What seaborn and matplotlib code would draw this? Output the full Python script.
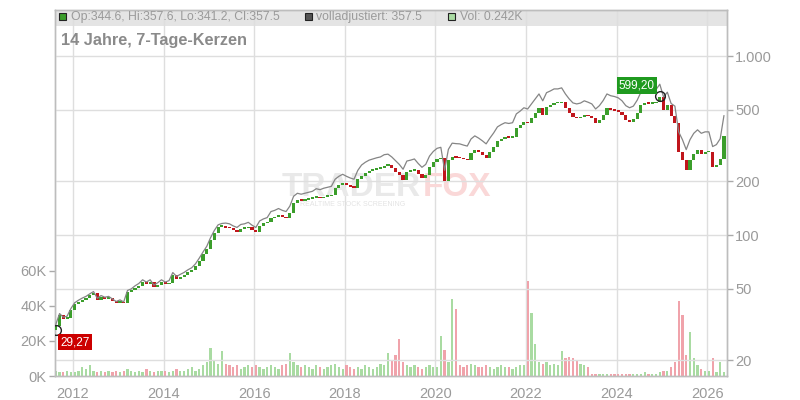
import numpy as np
import matplotlib
matplotlib.use("Agg")
import matplotlib.pyplot as plt
import seaborn as sns
from matplotlib.patches import Rectangle
from matplotlib.ticker import NullLocator

# ---------------- data ----------------
first_open = 29.5
close = [
    31, 35.7, 34, 34.5, 38, 41, 42.4, 43.5, 44.5, 46,
    47.4, 43.4, 45, 44, 44.5, 43, 41.7, 42.5, 41.5, 48,
    49, 50.5, 52, 54.6, 53, 54.6, 51, 52.5, 54.6, 53,
    54, 59.9, 57, 58.5, 60, 62, 63.7, 67, 72, 78,
    84, 93.8, 103, 111, 113, 110, 109, 106, 104, 108,
    109, 111, 107, 104, 113, 116, 118, 124, 126, 129,
    126, 124, 133, 151, 157, 155, 157, 159, 161, 162,
    160, 163, 165, 167, 183, 190, 195, 190, 186, 183,
    205, 214, 222, 228, 231, 235, 237, 244, 246, 237,
    226, 216, 203, 225, 228, 231, 218, 208, 216, 240,
    255, 265, 269, 200, 262, 272, 270, 269, 265, 262,
    287, 298, 290, 280, 269, 290, 310, 335, 345, 353,
    350, 353, 396, 410, 428, 422, 450, 480, 512, 468,
    520, 532, 546, 546, 553, 512, 480, 456, 450, 455,
    468, 460, 450, 422, 440, 470, 512, 500, 495, 487,
    468, 440, 428, 445, 480, 532, 546, 540, 546, 550,
    590, 500, 532, 460, 420, 290, 262, 231, 262, 285,
    298, 285, 290, 290, 240, 246, 265, 357.5,
]
adjusted = [
    31.6, 36.4, 34.7, 35.2, 38.8, 41.8, 43.2, 44.4, 45.4, 46.9,
    48.3, 44.3, 45.9, 44.9, 45.4, 43.9, 42.5, 43.4, 42.3, 49,
    50, 52, 53.6, 56.2, 54.6, 56.2, 52.5, 54.1, 56.2, 54.6,
    55.6, 61.7, 58.7, 60.3, 61.8, 63.9, 65.6, 69, 74.2, 80.3,
    86.5, 96.6, 106, 114, 116, 116.6, 115.5, 112.4, 110.2, 114.5,
    115.5, 117.7, 113.4, 110.2, 119.8, 123, 125.1, 135.2, 137.3, 140.6,
    137.3, 135.2, 145, 164.6, 171.1, 169, 171.1, 173.3, 175.5, 181.4,
    179.2, 182.6, 184.8, 187, 205, 212.8, 218.4, 212.8, 208.3, 205,
    229.6, 246, 255, 262, 266, 270, 273, 281, 283, 273,
    260, 248, 233, 259, 262, 266, 251, 239, 248, 276,
    293, 305, 309, 230, 301, 326, 324, 323, 318, 314,
    344, 358, 348, 336, 323, 348, 372, 402, 414, 424,
    420, 424, 475, 492, 514, 506, 540, 576, 614, 562,
    624, 638, 655, 655, 664, 614, 576, 547, 540, 546,
    562, 552, 540, 506, 528, 564, 614, 600, 594, 584,
    562, 528, 514, 525, 566, 628, 644, 637, 644, 649,
    696, 590, 628, 543, 525, 377, 341, 300, 341, 370,
    387, 370, 377, 377, 312, 320, 345, 465,
]
volume_k = [
    3, 2, 2, 3, 2, 2, 3, 5, 4, 6,
    3, 2, 3, 2, 3, 2, 3, 2, 3, 4,
    3, 2, 3, 2, 4, 3, 2, 3, 3, 3,
    2, 3, 4, 3, 3, 4, 5, 3, 4, 6,
    8, 16, 9, 7, 14, 7, 6, 5, 6, 4,
    5, 6, 5, 6, 5, 4, 5, 6, 5, 4,
    6, 7, 13, 8, 6, 5, 6, 5, 4, 6,
    5, 4, 5, 6, 7, 5, 4, 6, 5, 4,
    5, 4, 6, 5, 4, 5, 7, 6, 13, 9,
    12, 21, 8, 6, 5, 6, 5, 4, 5, 6,
    5, 5, 23, 15, 8, 44, 38, 6, 5, 6,
    7, 6, 5, 5, 6, 5, 4, 5, 6, 5,
    5, 4, 5, 6, 6, 54, 36, 18, 8, 7,
    8, 6, 7, 6, 14, 10, 11, 10, 9, 7,
    6, 5, 1, 1, 1, 1, 1, 1, 1, 1,
    1, 1, 1, 1, 1, 1, 2, 1, 1, 1,
    2, 3, 3, 5, 8, 43, 35, 12, 25, 10,
    6, 4, 3, 3, 10, 2, 8, 2,
]
low_value = 29.27
high_value = 599.20
low_label = "29,27"
high_label = "599,20"
year_ticks = [2012, 2014, 2016, 2018, 2020, 2022, 2024, 2026]
vol_ticks = [0, 20, 40, 60]
vol_tick_labels = ["0K", "20K", "40K", "60K"]
price_ticks = [20, 50, 100, 200, 500, 1000]
price_tick_labels = ["20", "50", "100", "200", "500", "1.000"]
title = "14 Jahre, 7-Tage-Kerzen"
legend_ohlc = "Op:344.6, Hi:357.6, Lo:341.2, Cl:357.5"
legend_adj = "volladjustiert: 357.5"
legend_vol = "Vol: 0.242K"

assert len(close) == len(adjusted) == len(volume_k)

# ---------------- style ----------------
sns.set_theme(style="white")
plt.rcParams['font.family'] = ['Liberation Sans', 'DejaVu Sans']

W, H = 800, 400
fig = plt.figure(figsize=(8, 4), dpi=100)
L, R, B, T = 55, 727, 376, 10
axv = fig.add_axes([L / W, 1 - B / H, (R - L) / W, (B - T) / H])
axp = axv.twinx()

n = len(close)
t = 2011.62 + np.arange(n) / 12.0   # monthly positions
c = np.array(close, dtype=float)
o = np.array([first_open] + close[:-1], dtype=float)
up = c >= o

GREEN = "#3b9e2b"
RED = "#c0161c"
VGREEN = "#a9dba2"
VRED = "#f0a3ab"
GRID = "#dedede"
TXT = "#9a9a9a"

# volume
axv.bar(t, volume_k, width=0.05, color=np.where(up, VGREEN, VRED), linewidth=0, zorder=2)
axv.set_ylim(0, 209)
axv.set_xlim(2011.603, 2026.437)
axv.set_yticks(vol_ticks)
axv.set_yticklabels(vol_tick_labels)
axv.set_xticks(year_ticks)
axv.set_xticklabels([str(y) for y in year_ticks])
axv.grid(axis='x', color=GRID, lw=1)
axv.grid(axis='y', visible=False)

# header band
axv.add_patch(Rectangle((0, (B - 26) / (B - T)), 1, 1 - (B - 26) / (B - T),
                        transform=axv.transAxes, facecolor="#e4e4e4",
                        edgecolor="none", zorder=0))

# watermark
axv.text(421 / W, 1 - 187 / H, "TRADER", transform=fig.transFigure, ha="right",
         va="center", fontsize=24, fontweight="bold", color="#e9e9e9", zorder=0.6)
axv.text(423 / W, 1 - 187 / H, "FOX", transform=fig.transFigure, ha="left",
         va="center", fontsize=24, fontweight="bold", color="#fad8d8", zorder=0.6)
axv.text(300 / W, 1 - 205 / H, "REALTIME STOCK SCREENING", transform=fig.transFigure,
         ha="left", va="center", fontsize=5, color="#e3e3e3", zorder=0.6)

# price axis
axp.set_yscale('log')
axp.set_ylim(16.3, 1808)
bottoms = np.minimum(o, c)
heights = np.maximum(np.abs(c - o), bottoms * 0.02)
axp.bar(t, heights, bottom=bottoms, width=0.07,
        color=np.where(up, GREEN, RED), linewidth=0, zorder=3)
sns.lineplot(x=t, y=adjusted, ax=axp, color="#858585", lw=0.9, zorder=4)
axp.set_yticks(price_ticks)
axp.set_yticklabels(price_tick_labels)
axp.yaxis.set_minor_locator(NullLocator())
axp.grid(axis='y', color=GRID, lw=1)
axp.grid(axis='x', visible=False)
axp.set_ylabel("")

for a in (axv, axp):
    for s in a.spines.values():
        s.set_color("#bdbdbd")
        s.set_linewidth(1)

axv.tick_params(axis='y', left=True, length=4, width=1, color="#aaaaaa",
                labelcolor=TXT, labelsize=10.5, pad=2)
axv.tick_params(axis='x', bottom=False, labelcolor=TXT, labelsize=10.5, pad=2)
axp.tick_params(axis='y', right=True, length=4, width=1, color="#aaaaaa",
                labelcolor=TXT, labelsize=10.5, pad=2)

# min / max markers
imax = int(np.argmax(c))
axp.plot([t[imax]], [high_value], marker='o', ms=7, mfc='none', mec='#222222', mew=1, zorder=6)
axp.annotate(high_label, (t[imax], high_value), xytext=(-16.5, 7.5), textcoords='offset points',
             ha='center', va='center', color='white', fontsize=8.5, zorder=7,
             bbox=dict(boxstyle='square,pad=0.18', fc='#1f9a1f', ec='none'))
axp.plot([t[0]], [low_value], marker='o', ms=7, mfc='none', mec='#222222', mew=1, zorder=6)
axp.annotate(low_label, (t[0], low_value), xytext=(13.7, -8.3), textcoords='offset points',
             ha='center', va='center', color='white', fontsize=8.5, zorder=7,
             bbox=dict(boxstyle='square,pad=0.18', fc='#cc0000', ec='none'))

# header legend
def fx(x):
    return x / W

def fy(y):
    return 1 - y / H

for x0, col in ((59, GREEN), (305, "#555555"), (448, VGREEN)):
    fig.patches.append(Rectangle((fx(x0), fy(20)), 7 / W, 7 / H, transform=fig.transFigure,
                                 facecolor=col, edgecolor="#222222", lw=0.8, zorder=5))
fig.text(fx(71), fy(17), legend_ohlc, ha='left', va='center', fontsize=8.8, color=TXT)
fig.text(fx(316), fy(17), legend_adj, ha='left', va='center', fontsize=8.8, color=TXT)
fig.text(fx(460), fy(17), legend_vol, ha='left', va='center', fontsize=8.8, color=TXT)
fig.text(fx(61), fy(40), title, ha='left', va='center', fontsize=11.7,
         fontweight='bold', color="#8a8a8a")

fig.savefig("out.png", dpi=100)
